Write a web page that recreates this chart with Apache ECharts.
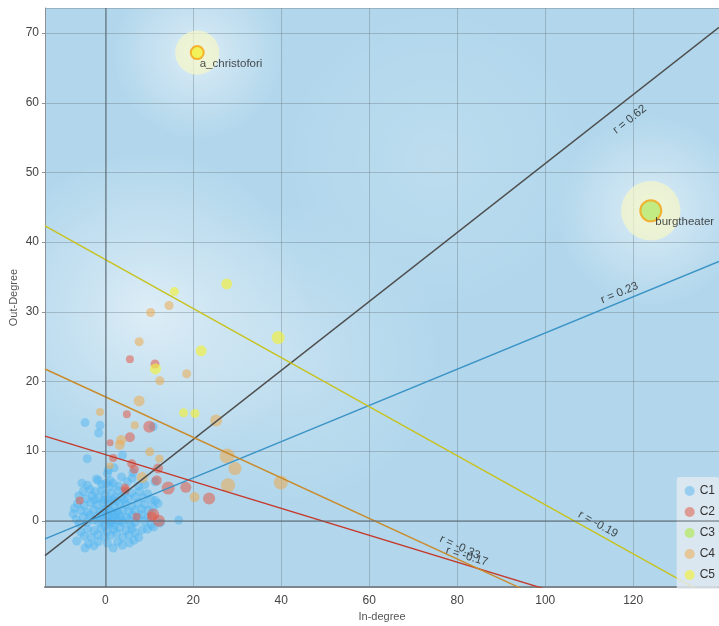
<!DOCTYPE html>
<html>
<head>
<meta charset="utf-8">
<title>In-degree / Out-Degree</title>
<script src="https://cdn.jsdelivr.net/npm/echarts@6/dist/echarts.min.js"></script>
<style>
  html, body { margin: 0; padding: 0; background: #fff; }
  #degree { width: 719px; height: 626px; }
</style>
</head>
<body>
<div id="degree"></div>
<script>
var clusterNames = ['C1', 'C2', 'C3', 'C4', 'C5'];

// C1 has no weight column, all the same size
var c1Points = [
  [-4.6,14.1],[-1.2,13.7],[-1.5,12.6],[10.9,13.5],[-4.1,8.9],[3.9,9.4],[0.7,7.3],[0.5,6.8],[2.0,7.6],[6.3,6.9],
  [-5.3,5.4],[-4.0,5.1],[-2.0,6.0],[-1.6,5.8],[-0.8,5.2],[0.3,5.4],[1.0,4.9],[1.8,5.4],[3.0,5.0],[3.7,6.3],
  [5.0,5.6],[6.1,6.1],[7.5,5.0],[9.0,5.2],[11.3,5.6],[1.1,5.8],
  [-6.0,3.6],[-5.0,4.2],[-4.3,3.2],[-3.5,4.5],[-3.0,3.6],[-2.3,4.2],[-1.5,3.3],[-0.8,4.4],[0.0,3.8],[0.6,3.0],
  [1.4,4.0],[2.2,3.3],[2.9,4.3],[3.6,3.5],[4.4,4.1],[5.2,3.2],[6.0,4.0],[6.8,3.4],[7.8,4.2],[8.6,3.3],
  [9.6,3.9],[10.5,3.0],[12.0,2.5],[-2.4,3.0],[-0.2,3.0],[1.6,3.0],[4.3,3.0],
  [-7.0,1.8],[-6.3,2.5],[-5.5,1.5],[-4.8,2.2],[-4.0,1.2],[-3.3,2.6],[-2.6,1.6],[-1.9,2.3],[-1.2,1.3],[-0.5,2.6],
  [0.2,1.7],[0.8,2.4],[1.5,1.2],[2.1,2.0],[2.7,1.4],[3.3,2.6],[4.0,1.6],[4.6,2.3],[5.3,1.3],[6.0,2.1],
  [6.7,1.5],[7.4,2.6],[8.2,1.7],[9.0,2.3],[9.8,1.5],[10.9,1.9],[11.4,2.9],[0.3,1.1],[1.0,1.5],[2.5,2.8],
  [3.0,1.0],[-0.4,1.6],
  [-7.3,1.0],[-6.6,0.2],[-5.9,-0.4],[-5.0,0.6],[-4.2,-0.2],[-3.5,0.8],[-2.8,0.1],[-2.0,0.6],[-1.4,-0.3],[-0.7,0.9],
  [0.0,0.2],[0.6,0.7],[1.1,-0.4],[1.7,0.4],[2.3,0.9],[2.9,0.0],[3.5,0.6],[4.1,-0.3],[4.8,0.5],[5.5,0.1],
  [6.2,0.8],[6.9,-0.2],[7.6,0.4],[8.3,0.9],[9.0,-0.1],[9.7,0.5],[10.4,-0.6],[12.5,-0.3],[16.7,0.1],[1.3,0.0],
  [-1.0,0.2],[0.8,-0.2],[2.2,0.2],[3.8,0.0],
  [-6.5,-2.9],[-5.6,-1.6],[-4.8,-2.2],[-4.0,-1.2],[-3.2,-2.4],[-2.5,-1.4],[-1.7,-2.0],[-0.9,-1.1],[-0.2,-2.3],[0.5,-1.5],
  [1.2,-2.1],[1.9,-1.2],[2.6,-1.8],[3.3,-1.0],[4.0,-2.4],[4.7,-1.4],[5.4,-2.0],[6.1,-1.1],[6.8,-1.7],[7.6,-2.4],
  [8.4,-1.3],[9.6,-1.2],[11.0,-0.9],[2.0,-0.6],[0.0,-0.8],[5.8,-0.6],
  [-4.6,-3.9],[-3.8,-3.3],[-2.6,-3.6],[-1.6,-3.0],[0.5,-3.2],[1.8,-3.9],[2.8,-3.0],[3.9,-3.5],[5.5,-3.2],[6.5,-2.8]
];

// [in-degree, out-degree, weight]
var c2Points = [
  [5.6,23.2,3],[11.3,22.5,4],[4.9,15.3,3],[5.6,12.0,5],[10.0,13.5,7],[1.1,11.2,2],[1.8,9.0,3],
  [6.0,8.2,4],[6.6,7.4,4],[12.0,7.5,5],[11.7,5.8,5],[14.3,4.7,8],[18.3,4.8,6],[23.6,3.2,7],
  [4.5,4.7,4],[4.6,4.4,3],[-5.8,2.9,3],[10.9,0.9,7],[10.6,0.6,5],[12.2,0.0,7],[7.1,0.6,3]
];
var c3Points = [];
var c4Points = [
  [14.5,30.9,4],[10.3,29.9,4],[7.7,25.7,4],[12.4,20.1,4],[18.5,21.1,4],[7.7,17.2,6],[-1.2,15.6,3],
  [6.7,13.7,3],[25.2,14.4,7],[3.6,11.6,5],[3.3,10.9,5],[10.1,9.9,4],[12.3,8.9,3],[1.1,7.9,2],
  [8.4,6.2,6],[27.7,9.3,10],[29.5,7.5,8],[27.9,5.1,9],[39.9,5.5,9],[20.3,3.4,5]
];
var c5Points = [
  [27.6,34.0,6],[15.7,32.9,4],[39.3,26.3,8],[21.8,24.4,6],[11.4,21.8,6],[17.8,15.5,4],[20.4,15.4,4]
];

// labelled hubs
var hubNames = ['a_christofori', 'burgtheater'];
var hubPoints = [[20.9, 67.2, 8], [124.0, 44.5, 16]];
var hubCluster = [4, 2];

// regression lines y = a + b x
var fitNames = ['all', 'C1', 'C2', 'C4', 'C5'];
var fitIntercepts = [1.78, 0.96, 9.5, 17.8, 37.5];
var fitSlopes = [0.495, 0.26, -0.193, -0.291, -0.352];
var fitR = ['0.62', '0.23', '-0.17', '-0.33', '-0.19'];
var fitLabelAt = [[119.2, 57.6], [116.9, 32.7], [82.2, -5.1], [80.6, -3.8], [112.0, -0.5]];

var xMin = -13.7, xMax = 139.5, yMin = -9.5, yMax = 73.6;

var pointColors = ['rgba(80,180,240,0.62)', 'rgba(226,88,72,0.68)', 'rgba(184,232,110,1)', 'rgba(234,174,88,0.72)', 'rgba(242,240,60,0.82)'];
var lineColors = ['#4d4d4d', '#3b93c6', '#c43a2c', '#c98b2c', '#c8c21e'];

var chart = echarts.init(document.getElementById('degree'));

function sizeOf(v) {
  return v.length > 2 ? 5 + v[2] : 9;
}

var series = [];

// soft light spots in the plot background
series.push({
  type: 'scatter', name: 'glow', silent: true, z: -1, clip: false,
  symbolSize: function (v) { return v[2]; },
  itemStyle: {
    color: function (p) {
      return {
        type: 'radial', x: 0.5, y: 0.5, r: 0.5,
        colorStops: [
          { offset: 0, color: 'rgba(255,255,255,' + p.value[3] + ')' },
          { offset: 0.4, color: 'rgba(255,255,255,' + (p.value[3] * 0.55) + ')' },
          { offset: 1, color: 'rgba(255,255,255,0)' }
        ]
      };
    }
  },
  data: [[10, 30, 320, 0.7], [21, 67, 170, 0.7], [124, 44.5, 190, 0.7], [42, 24, 300, 0.3], [75, 52, 300, 0.18]]
});

// zero lines
series.push({
  type: 'scatter', name: 'zero', silent: true, z: 1, data: [],
  markLine: {
    silent: true, symbol: 'none', label: { show: false },
    lineStyle: { color: 'rgba(85,95,105,0.62)', width: 1.5, type: 'solid' },
    data: [{ xAxis: 0 }, { yAxis: 0 }]
  }
});

// halos behind the hubs
series.push({
  type: 'scatter', name: 'halo', silent: true, z: 2,
  symbolSize: function (v) { return v[2] * 1.9 + 29; },
  itemStyle: { color: 'rgba(248,248,198,0.85)' },
  data: hubPoints
});

var clusterData = [c1Points, c2Points, c3Points, c4Points, c5Points];
clusterNames.forEach(function (name, i) {
  var data = clusterData[i].slice();
  hubPoints.forEach(function (h, k) {
    if (hubCluster[k] === i) {
      data.push({
        name: hubNames[k],
        value: h,
        itemStyle: { color: pointColors[i].replace(/[\d.]+\)$/, '1)'), borderColor: '#f5a214', borderWidth: 2 },
        label: {
          show: true, formatter: '{b}', position: k === 0 ? [10, 13] : [16, 17],
          align: 'left', verticalAlign: 'top', color: '#222', fontSize: 11.5,
          fontFamily: 'Helvetica, Arial, sans-serif'
        }
      });
    }
  });
  series.push({
    type: 'scatter', name: name, z: 2,
    symbolSize: sizeOf,
    itemStyle: { color: pointColors[i] },
    data: data
  });
});

fitNames.forEach(function (name, i) {
  series.push({
    type: 'line', name: 'fit ' + name, z: 3, silent: true,
    showSymbol: false, clip: true,
    lineStyle: { color: lineColors[i], width: 1.4 },
    data: [[xMin, fitIntercepts[i] + fitSlopes[i] * xMin], [xMax, fitIntercepts[i] + fitSlopes[i] * xMax]]
  });
});

series.push({
  type: 'scatter', name: 'fitLabels', z: 4, silent: true,
  symbolSize: 1,
  itemStyle: { color: 'rgba(0,0,0,0)' },
  label: {
    show: true, position: 'inside', color: '#222', fontSize: 11.5,
    fontFamily: 'Helvetica, Arial, sans-serif',
    formatter: function (p) { return 'r = ' + fitR[p.dataIndex]; }
  },
  data: fitLabelAt.map(function (p, i) {
    var ang = Math.atan(fitSlopes[i] * 6.96 / 4.4) * 180 / Math.PI;
    return { value: p, label: { rotate: ang } };
  })
});

chart.setOption({
  animation: false,
  textStyle: { fontFamily: 'Helvetica, Arial, sans-serif' },
  grid: {
    left: 45, right: 0, top: 8, bottom: 39, z: -2,
    outerBoundsMode: 'none', containLabel: false,
    show: true, backgroundColor: '#b2d7ec', borderWidth: 0
  },
  legend: {
    data: clusterNames,
    orient: 'vertical', right: 0, bottom: 37,
    icon: 'circle', itemWidth: 10, itemHeight: 10, itemGap: 9,
    padding: [8, 4, 8, 8],
    backgroundColor: 'rgba(228,234,240,0.82)', borderRadius: 3,
    textStyle: { fontSize: 12, color: '#333' }
  },
  xAxis: {
    type: 'value', min: xMin, max: xMax, splitNumber: 7,
    name: 'In-degree', nameLocation: 'middle', nameGap: 24, nameMoveOverlap: false,
    nameTextStyle: { fontSize: 11, color: '#555' },
    axisLine: { onZero: false, lineStyle: { color: '#7d868c', width: 2 } },
    axisTick: { show: false },
    axisLabel: { showMinLabel: false, showMaxLabel: false, color: '#444', fontSize: 12, margin: 8 },
    splitLine: { lineStyle: { color: 'rgba(105,120,130,0.38)', width: 1 } }
  },
  yAxis: {
    type: 'value', min: yMin, max: yMax, splitNumber: 8,
    name: 'Out-Degree', nameLocation: 'middle', nameGap: 26, nameMoveOverlap: false,
    nameTextStyle: { fontSize: 11, color: '#555' },
    axisLine: { show: true, onZero: false, lineStyle: { color: '#8a9298', width: 1 } },
    axisTick: { show: true, length: 3, lineStyle: { color: '#8a9298' } },
    axisLabel: { showMinLabel: false, showMaxLabel: false, color: '#444', fontSize: 12, margin: 6 },
    splitLine: { lineStyle: { color: 'rgba(105,120,130,0.38)', width: 1 } }
  },
  series: series
});
</script>
</body>
</html>
